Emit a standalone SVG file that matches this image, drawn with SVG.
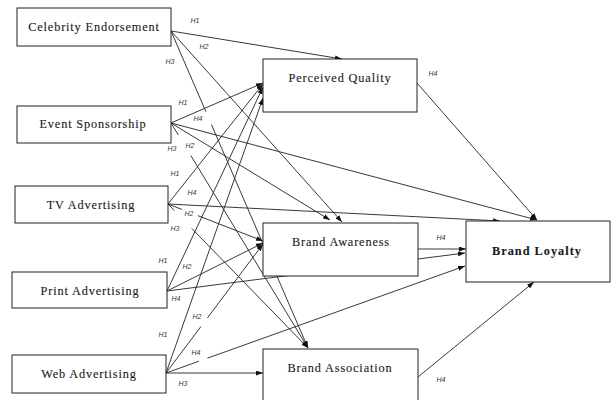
<svg xmlns="http://www.w3.org/2000/svg" width="611" height="400" viewBox="0 0 611 400">
<defs>
<marker id="arr" viewBox="0 0 7 5" refX="7" refY="2.5" markerWidth="7" markerHeight="5" markerUnits="userSpaceOnUse" orient="auto">
<path d="M0,0 L7,2.5 L0,5 z" fill="#111"/>
</marker>
<style>
.box{fill:#fff;stroke:#222;stroke-width:1}
.t{font-family:"Liberation Serif","Times New Roman",serif;font-size:12.3px;letter-spacing:0.85px;fill:#1a1a1a;stroke:#1a1a1a;stroke-width:0.12;text-anchor:middle}
.b{font-weight:bold;letter-spacing:1px;stroke-width:0.1}
.c{stroke:#222;stroke-width:0.9;fill:none;marker-end:url(#arr)}
.h{font-family:"Liberation Sans",Arial,sans-serif;font-style:italic;font-size:7px;fill:#333;text-anchor:middle}
</style>
</defs>
<rect width="611" height="400" fill="#fff"/>
<g id="connectors">
<path class="c" d="M171,31 L342,59"/>
<path class="c" d="M171,31 L342,222"/>
<path class="c" d="M171,31 L308,348" stroke-dasharray="88 14 500"/>
<path class="c" d="M171,123 L263,83"/>
<path class="c" d="M171,123 L537,220"/>
<path class="c" d="M171,123 L330,220"/>
<path class="c" d="M171,123 L308,348" stroke-dasharray="14 24 500"/>
<path class="c" d="M168,204 L263,84"/>
<path class="c" d="M168,204 L500,221"/>
<path class="c" d="M168,204 L263,241" stroke-dasharray="15 17 300"/>
<path class="c" d="M168,204 L308,348" stroke-dasharray="9 25 300"/>
<path class="c" d="M167,291 L263,87"/>
<path class="c" d="M167,291 L263,243"/>
<path class="c" d="M167,291 L465,253"/>
<path class="c" d="M166,373 L263,98"/>
<path class="c" d="M166,373 L263,244" stroke-dasharray="58 11 300"/>
<path class="c" d="M166,373 L465,266" stroke-dasharray="35 9 400"/>
<path class="c" d="M166,373 L263,373"/>
<path class="c" d="M417,83 L537,220"/>
<path class="c" d="M418,249 L466,249"/>
<path class="c" d="M418,377 L534,282"/>
</g>
<g id="labels">
<text class="h" x="195" y="23">H1</text>
<text class="h" x="204" y="49">H2</text>
<text class="h" x="170" y="64">H3</text>
<text class="h" x="183" y="105">H1</text>
<text class="h" x="198" y="121">H4</text>
<text class="h" x="190" y="148">H2</text>
<text class="h" x="172" y="151">H3</text>
<text class="h" x="175" y="176">H1</text>
<text class="h" x="192" y="195">H4</text>
<text class="h" x="189" y="216">H2</text>
<text class="h" x="175" y="231">H3</text>
<text class="h" x="163" y="263">H1</text>
<text class="h" x="187" y="269">H2</text>
<text class="h" x="176" y="301">H4</text>
<text class="h" x="163" y="337">H1</text>
<text class="h" x="197" y="319">H2</text>
<text class="h" x="196" y="355">H4</text>
<text class="h" x="183" y="386">H3</text>
<text class="h" x="433" y="76">H4</text>
<text class="h" x="441" y="240">H4</text>
<text class="h" x="441" y="382">H4</text>
</g>
<g id="celebrity-endorsement">
<rect class="box" x="17" y="8" width="154" height="38"/>
<text class="t" x="94" y="31">Celebrity Endorsement</text>
</g>
<g id="event-sponsorship">
<rect class="box" x="17" y="106" width="154" height="37"/>
<text class="t" x="93" y="128">Event Sponsorship</text>
</g>
<g id="tv-advertising">
<rect class="box" x="15" y="186" width="153" height="37"/>
<text class="t" x="91" y="209">TV Advertising</text>
</g>
<g id="print-advertising">
<rect class="box" x="12" y="272" width="155" height="36"/>
<text class="t" x="90" y="295">Print Advertising</text>
</g>
<g id="web-advertising">
<rect class="box" x="12" y="355" width="154" height="38"/>
<text class="t" x="89" y="378">Web Advertising</text>
</g>
<g id="perceived-quality">
<rect class="box" x="263" y="59" width="154" height="53"/>
<text class="t" x="340" y="82">Perceived Quality</text>
</g>
<g id="brand-awareness">
<rect class="box" x="263" y="223" width="155" height="53"/>
<text class="t" x="341" y="246">Brand Awareness</text>
</g>
<g id="brand-association">
<rect class="box" x="263" y="349" width="155" height="60"/>
<text class="t" x="340" y="372">Brand Association</text>
</g>
<g id="brand-loyalty">
<rect class="box" x="466" y="221" width="144" height="61"/>
<text class="t b" x="537" y="255">Brand Loyalty</text>
</g>
</svg>
